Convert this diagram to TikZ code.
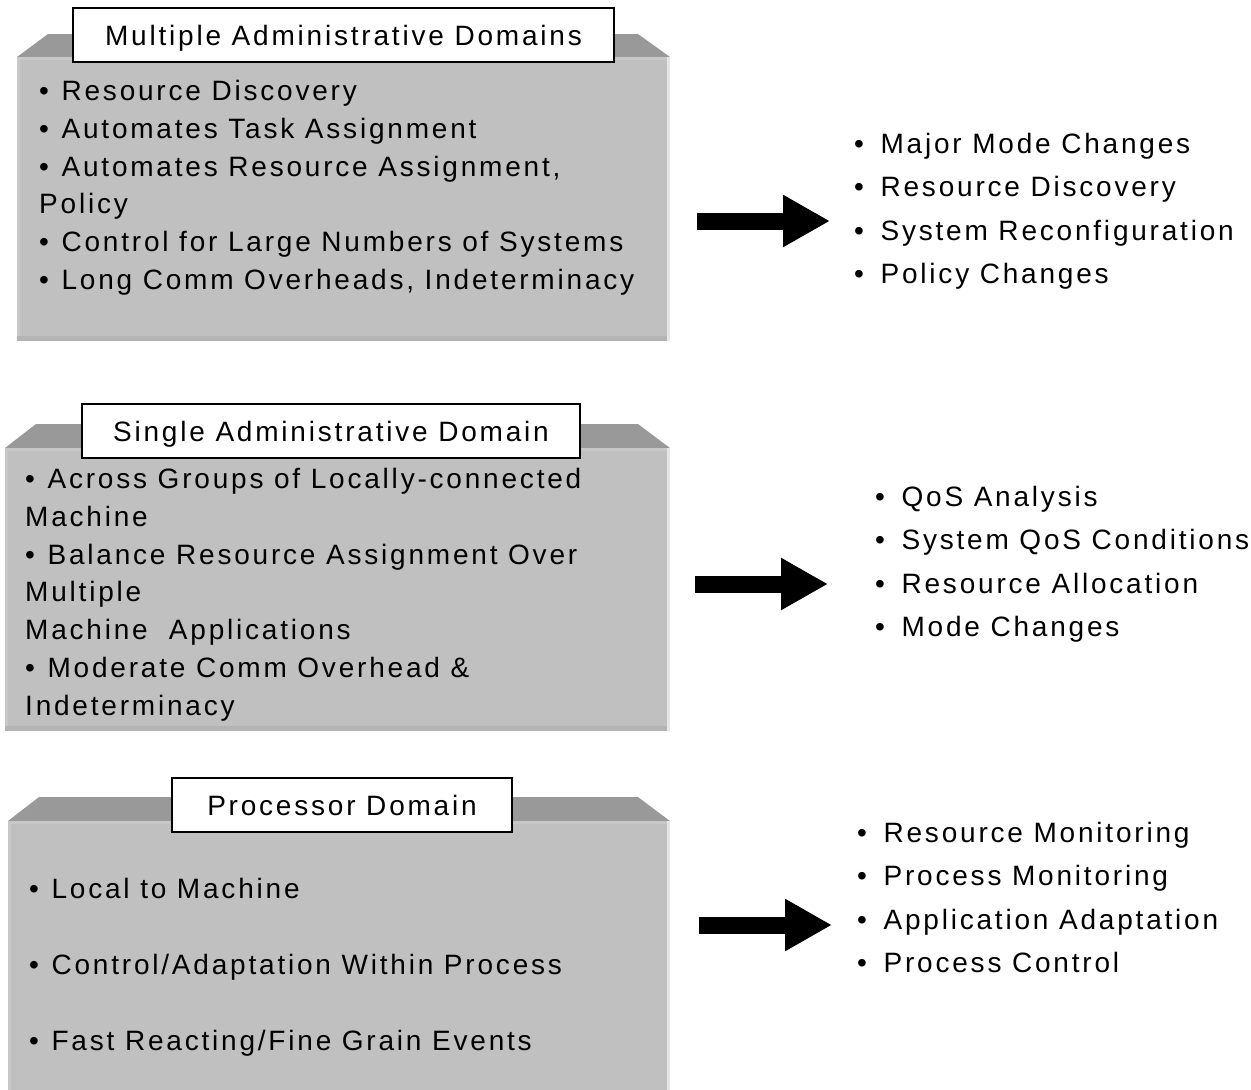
\documentclass[tikz,border=0pt]{standalone}
\usepackage{fontspec}
\setmainfont{Liberation Sans}[LetterSpace=10]
\usetikzlibrary{arrows.meta}
\usepackage{xcolor}

\definecolor{bevelgray}{HTML}{999999}
\definecolor{facegray}{HTML}{C0C0C0}
\definecolor{rimtop}{HTML}{C8C8C8}
\definecolor{rimlight}{HTML}{E6E6E6}
\definecolor{rimdark}{HTML}{B4B4B4}

\newlength{\bulgap}
\setlength{\bulgap}{2pt}
\newcommand{\bul}{•\hspace{\bulgap} }

\tikzset{
  dtitle/.style={draw=black,line width=2pt,fill=white,inner sep=0pt,
    text height=20pt,text depth=-4pt,font=\fontsize{28}{30}\selectfont},
  dlist/.style={anchor=north west,inner sep=0pt,align=left,
    font=\fontsize{28}{37.8}\selectfont},
  olist/.style={dlist,font={\fontsize{28}{43.4}\selectfont\setlength{\bulgap}{6pt}}},
  bigarrow/.style={line width=17pt,-{Triangle[length=47pt,width=49pt]}}
}

\begin{document}
\begin{tikzpicture}[x=1pt,y=-1pt]
\useasboundingbox (0,0) rectangle (1251,1090);

% the three domain slabs: left / bevel top / face top / bottom
\foreach \l/\t/\m/\b in {17/34/57/341, 5/424/448/731, 8/797/821/1100}{
  \fill[bevelgray] (\l,\m) -- ({\l+31},\t) -- (638,\t) -- (670,\m) -- cycle;
  \fill[facegray] (\l,\m) rectangle (670,\b);
  \fill[rimtop] (\l,\m) rectangle (670,{\m+3});
  \fill[rimtop] (\l,\m) rectangle ({\l+3},\b);
  \fill[rimlight] (667,\m) rectangle (670,\b);
  \fill[rimdark] (\l,{\b-5}) rectangle (667,\b);
}

\node[dtitle,minimum width=541pt,minimum height=54pt] (mtitle) at (343.5,35) {Multiple Administrative Domains};
\node[dtitle,minimum width=498pt,minimum height=54pt] (stitle) at (331,431) {Single Administrative Domain};
\node[dtitle,minimum width=340pt,minimum height=54pt] (ptitle) at (342,805) {Processor Domain};

\node[dlist] (mleft) at (39,80) {\bul Resource Discovery\\
\bul Automates Task Assignment\\
\bul Automates Resource Assignment,\\
Policy\\
\bul Control for Large Numbers of Systems\\
\bul Long Comm Overheads, Indeterminacy};
\node[olist] (mright) at (854,133) {\bul Major Mode Changes\\
\bul Resource Discovery\\
\bul System Reconfiguration\\
\bul Policy Changes};

\node[dlist] (sleft) at (25,468) {\bul Across Groups of Locally-connected\\
Machine\\
\bul Balance Resource Assignment Over\\
Multiple\\
Machine~ Applications\\
\bul Moderate Comm Overhead \&\\
Indeterminacy};
\node[olist] (sright) at (875,486) {\bul QoS Analysis\\
\bul System QoS Conditions\\
\bul Resource Allocation\\
\bul Mode Changes};

\node[dlist,font=\fontsize{28}{76}\selectfont] (pleft) at (29,878) {\bul Local to Machine\\
\bul Control/Adaptation Within Process\\
\bul Fast Reacting/Fine Grain Events};
\node[olist] (pright) at (857,822) {\bul Resource Monitoring\\
\bul Process Monitoring\\
\bul Application Adaptation\\
\bul Process Control};

% arrows
\coordinate (ma) at (697,221);
\coordinate (mb) at (830,221);
\coordinate (sa) at (695,584);
\coordinate (sb) at (828,584);
\coordinate (pa) at (699,925);
\coordinate (pb) at (832,925);
\draw[bigarrow] (ma) -- (mb);
\draw[bigarrow] (sa) -- (sb);
\draw[bigarrow] (pa) -- (pb);
\end{tikzpicture}
\end{document}
